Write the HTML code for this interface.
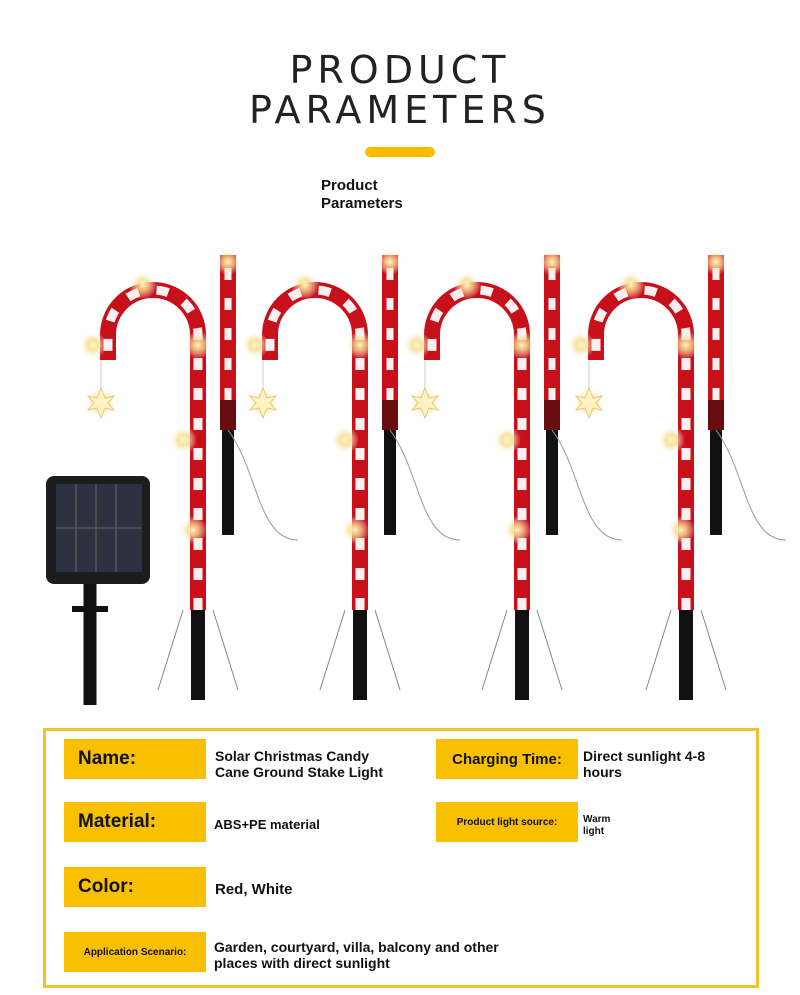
<!DOCTYPE html>
<html><head><meta charset="utf-8"><style>
body{margin:0;width:800px;height:995px;background:#fff;position:relative;overflow:hidden;font-family:"Liberation Sans","DejaVu Sans",sans-serif}
.t{position:absolute;left:0;width:800px;text-align:center;font-size:38px;letter-spacing:5px;color:#222;font-family:"DejaVu Sans","Liberation Sans",sans-serif}
.bar{position:absolute;left:365px;top:147px;width:70px;height:10px;border-radius:5px;background:#f7bd00}
.pp{position:absolute;left:321px;top:177px;font-size:15px;font-weight:bold;line-height:18px;color:#111}
.box{position:absolute;left:43px;top:728px;width:710px;height:254px;border:3px solid #f2c12e}
.lab{position:absolute;background:#f8c000;height:40px;width:142px;display:flex;align-items:center;font-weight:bold;color:#111;box-sizing:border-box}
.val{position:absolute;font-weight:bold;font-size:14px;line-height:16px;color:#111}
</style></head><body>
<div class="t" style="top:48px">PRODUCT</div>
<div class="t" style="top:88px">PARAMETERS</div>
<div class="bar"></div>
<div class="pp">Product<br>Parameters</div>
<svg style="position:absolute;left:0;top:0" width="800" height="995">
<defs>
<radialGradient id="gl"><stop offset="0" stop-color="#fff6c8"/><stop offset="0.4" stop-color="#f7dc8a" stop-opacity="0.8"/><stop offset="1" stop-color="#fff" stop-opacity="0"/></radialGradient>
<g id="cane">
<path d="M0 700 V610" stroke="#111" stroke-width="14"/>
<path d="M0 610 V335 A45 45 0 0 0 -90 335 V360" fill="none" stroke="#c8101a" stroke-width="16"/>
<path d="M0 610 V335 A45 45 0 0 0 -90 335 V360" fill="none" stroke="#fbeff0" stroke-width="9" stroke-dasharray="12 18"/>
<path d="M30 535 V430" stroke="#111" stroke-width="12"/>
<path d="M30 430 V400" stroke="#6a0d10" stroke-width="16"/>
<path d="M30 400 V255" stroke="#c8101a" stroke-width="16"/>
<path d="M30 400 V255" stroke="#fbeff0" stroke-width="7" stroke-dasharray="12 18"/>
<path d="M-97 360 V390" stroke="#ccc" stroke-width="1"/>
<circle cx="-97" cy="403" r="16" fill="url(#gl)"/>
<path d="M-97 388 L-93 398 L-84 396 L-90 403 L-84 410 L-93 408 L-97 418 L-101 408 L-110 410 L-104 403 L-110 396 L-101 398Z" fill="#fff3c4" stroke="#e8c878" stroke-width="1"/>
<circle cx="-55" cy="285" r="14" fill="url(#gl)"/>
<circle cx="-105" cy="345" r="14" fill="url(#gl)"/>
<circle cx="0" cy="345" r="14" fill="url(#gl)"/>
<circle cx="-15" cy="440" r="14" fill="url(#gl)"/>
<circle cx="-5" cy="530" r="14" fill="url(#gl)"/>
<circle cx="30" cy="262" r="13" fill="url(#gl)"/>
<path d="M-15 610 L-40 690 M15 610 L40 690" stroke="#888" stroke-width="1" fill="none"/>
<path d="M30 430 C60 470 60 540 100 540" stroke="#999" stroke-width="1" fill="none"/>
</g>
</defs>
<use href="#cane" x="198"/><use href="#cane" x="360"/><use href="#cane" x="522"/><use href="#cane" x="686"/>
<rect x="46" y="476" width="104" height="108" rx="8" fill="#1d1d1f"/>
<rect x="56" y="484" width="86" height="88" fill="#2c3240"/>
<path d="M76 484V572M96 484V572M116 484V572M56 528H142" stroke="#555" stroke-width="1.5"/>
<path d="M90 584 V705" stroke="#111" stroke-width="13"/>
<rect x="72" y="606" width="36" height="6" fill="#111"/>
</svg>
<div class="box"></div>
<div class="lab" style="left:64px;top:739px;font-size:19px;padding-left:14px">Name:</div>
<div class="lab" style="left:64px;top:802px;font-size:19px;padding-left:14px">Material:</div>
<div class="lab" style="left:64px;top:867px;font-size:19px;padding-left:14px">Color:</div>
<div class="lab" style="left:64px;top:932px;font-size:10px;justify-content:center">Application Scenario:</div>
<div class="lab" style="left:436px;top:739px;font-size:15px;justify-content:center">Charging Time:</div>
<div class="lab" style="left:436px;top:802px;font-size:10px;justify-content:center">Product light source:</div>
<div class="val" style="left:215px;top:748px">Solar Christmas Candy<br>Cane Ground Stake Light</div>
<div class="val" style="left:214px;top:817px;font-size:13px">ABS+PE material</div>
<div class="val" style="left:215px;top:882px;font-size:15px">Red, White</div>
<div class="val" style="left:214px;top:939px;font-size:14px">Garden, courtyard, villa, balcony and other<br>places with direct sunlight</div>
<div class="val" style="left:583px;top:748px">Direct sunlight 4-8<br>hours</div>
<div class="val" style="left:583px;top:814px;font-size:10px;line-height:12px">Warm<br>light</div>
</body></html>
